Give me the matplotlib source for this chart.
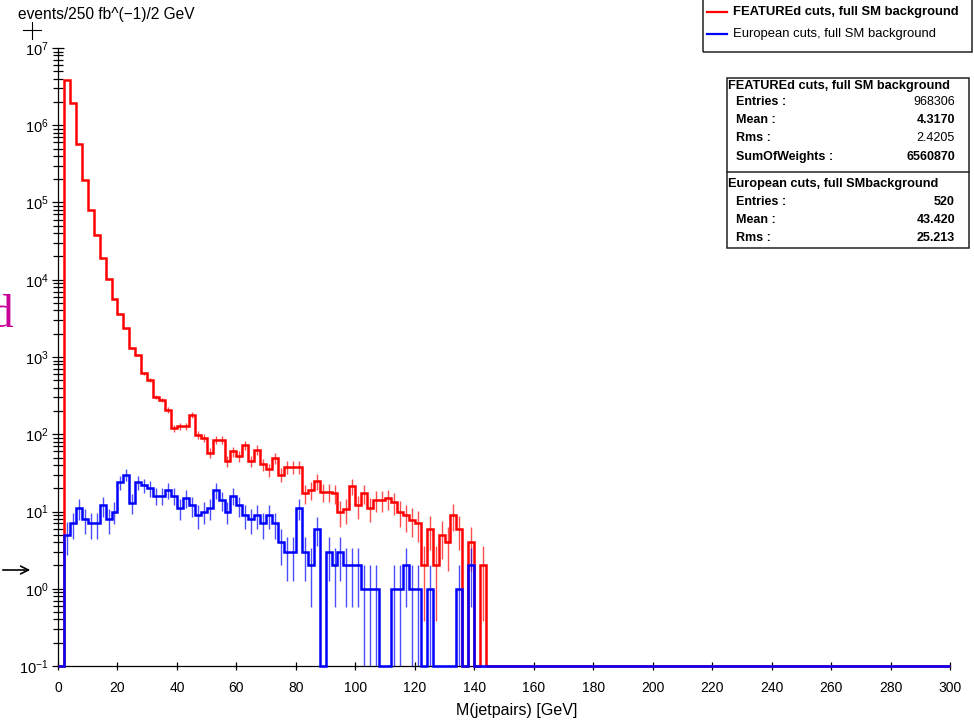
import numpy as np
import matplotlib.pyplot as plt
from matplotlib.ticker import LogLocator, NullFormatter, MultipleLocator, LogFormatterSciNotation
from matplotlib.patches import Rectangle
from matplotlib.lines import Line2D

plt.rcParams['font.family'] = ['Liberation Sans', 'DejaVu Sans']
plt.rcParams['mathtext.fontset'] = 'custom'
plt.rcParams['mathtext.rm'] = 'Liberation Sans'
plt.rcParams['mathtext.it'] = 'Liberation Sans:italic'
plt.rcParams['mathtext.bf'] = 'Liberation Sans:bold'

W, H = 974, 722  # figure size in pixels

# histogram binning (GeV)
bin_width = 2
x_max = 300

red_label = 'FEATUREd cuts, full SM background'
blue_label = 'European cuts, full SM background'

# bin contents, 2 GeV bins starting at 0; bins after the list are empty
red_counts = [0, 3.9e6, 1.96e6, 5.7e5, 1.96e5, 8.0e4, 3.85e4, 1.9e4, 1.02e4, 5600,
              3600, 2340, 1320, 1070, 617, 507, 302, 279, 207, 120,
              126, 126, 178, 99, 89, 58, 85, 85, 45, 60,
              52, 73, 45, 63, 41, 35, 49, 30, 38, 38,
              38, 17.4, 19, 24.5, 18, 18, 17.4, 10, 10.7, 21.4,
              12, 17.4, 11.1, 14.1, 14.1, 14.8, 13.2, 10, 8.9, 7.8,
              7, 2, 6, 2, 5, 4, 9, 6, 0, 4,
              0, 2]
blue_counts = [0, 5, 7, 11, 8, 7, 7, 12, 8, 10,
               24, 30, 13, 24, 22, 20, 16, 16, 19, 16,
               11, 15, 12, 9, 10, 11, 19, 14, 10, 16,
               12, 9, 8, 9, 7, 9, 7, 4, 3, 3,
               11, 3, 2, 6, 0, 3, 2, 3, 2, 2,
               2, 1, 1, 1, 0, 0, 1, 1, 2, 1,
               1, 0, 1, 0, 0, 0, 0, 1, 0, 2]
red_weight = 1.3  # typical event weight of the red sample (sets error bar size)

# stats box text
red_stats = [('Entries :', '968306', 'normal'), ('Mean :', '4.3170', 'bold'),
             ('Rms :', '2.4205', 'normal'), ('SumOfWeights :', '6560870', 'bold')]
blue_stats = [('Entries :', '520', 'bold'), ('Mean :', '43.420', 'bold'),
              ('Rms :', '25.213', 'bold')]

ymin, ymax = 0.1, 1e7
nbins = x_max // bin_width
edges = np.arange(0, x_max + bin_width, bin_width)
centers = edges[:-1] + bin_width / 2


def full(counts):
    out = np.zeros(nbins)
    out[:len(counts)] = counts
    return out


red = full(red_counts)
blue = full(blue_counts)
red_err = np.sqrt(red * red_weight)
blue_err = np.sqrt(blue)


def fx(px):
    return px / W


def fy(py):
    return 1 - py / H


fig = plt.figure(figsize=(W / 100, H / 100), dpi=100)
ax = fig.add_axes([fx(58), fy(666), (950 - 58) / W, (666 - 48) / H])
ax.set_yscale('log')
ax.set_xlim(0, x_max)
ax.set_ylim(ymin, ymax)

for vals, errs, col in [(red, red_err, '#ff0000'), (blue, blue_err, '#0000ff')]:
    ax.stairs(np.maximum(vals, ymin), edges, baseline=None, color=col, lw=1.8,
              zorder=4, clip_on=False)
    m = vals > 0
    lo = np.maximum(vals[m] - errs[m], ymin)
    hi = vals[m] + errs[m]
    ax.vlines(centers[m], lo, hi, color=col, lw=1.0, alpha=0.7, zorder=4)

for s in ['top', 'right']:
    ax.spines[s].set_visible(False)
for s in ['left', 'bottom']:
    ax.spines[s].set_linewidth(0.9)

ax.xaxis.set_major_locator(MultipleLocator(20))
ax.yaxis.set_major_locator(LogLocator(base=10, numticks=20))
ax.yaxis.set_minor_locator(LogLocator(base=10, subs=np.arange(2, 10), numticks=100))
ax.yaxis.set_major_formatter(LogFormatterSciNotation())
ax.yaxis.set_minor_formatter(NullFormatter())
ax.tick_params(axis='x', which='major', direction='inout', length=6, width=0.9,
               labelsize=10, pad=8)
ax.tick_params(axis='y', which='major', direction='inout', length=9, width=0.9,
               labelsize=10.5, pad=2)
ax.tick_params(axis='y', which='minor', direction='inout', length=6.5, width=0.9)

# titles
fig.text(fx(18), fy(15), 'events/250 fb^(\u22121)/2 GeV', fontsize=11.2, ha='left', va='center')
fig.text(fx(517), fy(710), 'M(jetpairs) [GeV]', fontsize=11.5, ha='center', va='center')

# legend box
fig.add_artist(Rectangle((fx(703), fy(52)), (972 - 703) / W, 60 / H, transform=fig.transFigure,
                         fill=False, ec='#222222', lw=1.1))
for yy, col, lab, wt in [(12, '#ff0000', red_label, 'bold'), (34, '#0000ff', blue_label, 'normal')]:
    fig.add_artist(Line2D([fx(707), fx(727)], [fy(yy), fy(yy)], color=col, lw=1.6,
                          transform=fig.transFigure))
    fig.text(fx(733), fy(yy), lab, fontsize=9.4, fontweight=wt, ha='left', va='center')

# stats box
fig.add_artist(Rectangle((fx(727), fy(248)), (969 - 727) / W, (248 - 78) / H,
                         transform=fig.transFigure, fill=False, ec='#222222', lw=1.1))
fig.add_artist(Line2D([fx(727), fx(969)], [fy(172), fy(172)], color='#222222', lw=1.1,
                      transform=fig.transFigure))
fig.text(fx(728), fy(86), red_label, fontsize=9.2, fontweight='bold', ha='left', va='center')
for k, (name, val, wt) in enumerate(red_stats):
    yy = 102 + 18.2 * k
    fig.text(fx(736), fy(yy), name, fontsize=9, fontweight='bold', ha='left', va='center')
    fig.text(fx(955), fy(yy), val, fontsize=9, fontweight=wt, ha='right', va='center')
fig.text(fx(728), fy(184), 'European cuts, full SMbackground', fontsize=9.2, fontweight='bold',
         ha='left', va='center')
for k, (name, val, wt) in enumerate(blue_stats):
    yy = 202 + 18.2 * k
    fig.text(fx(736), fy(yy), name, fontsize=9, fontweight='bold', ha='left', va='center')
    fig.text(fx(955), fy(yy), val, fontsize=9, fontweight=wt, ha='right', va='center')

# stray marks left over at the page edge
fig.text(fx(13), fy(327), 'd', fontsize=34, family='Liberation Serif', color='#c8009a',
         ha='right', va='baseline')
ax.annotate('', xy=(fx(33), fy(570)), xycoords='figure fraction', xytext=(fx(0), fy(570)),
            textcoords='figure fraction', annotation_clip=False,
            arrowprops=dict(arrowstyle='->', lw=1.2, color='black', mutation_scale=14))
fig.add_artist(Line2D([fx(23), fx(41)], [fy(30), fy(30)], color='black', lw=0.8,
                      transform=fig.transFigure))
fig.add_artist(Line2D([fx(32), fx(32)], [fy(22), fy(39)], color='black', lw=0.8,
                      transform=fig.transFigure))

fig.savefig('out.png', dpi=100)
